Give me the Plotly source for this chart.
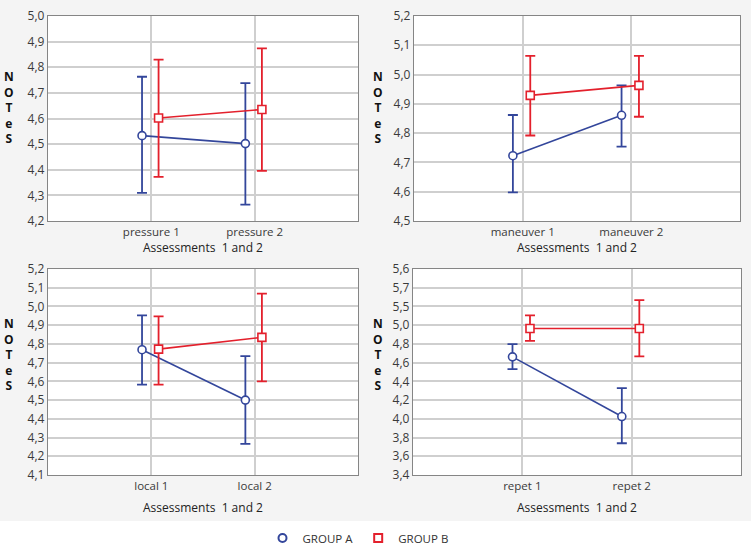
import plotly.graph_objects as go

# ---------------- data ----------------
pressure_cats = ["pressure 1", "pressure 2"]
pressure_a_mean = [4.533, 4.502]
pressure_a_hi = [4.763, 4.738]
pressure_a_lo = [4.310, 4.264]
pressure_b_mean = [4.602, 4.635]
pressure_b_hi = [4.830, 4.874]
pressure_b_lo = [4.372, 4.396]

maneuver_cats = ["maneuver 1", "maneuver 2"]
maneuver_a_mean = [4.723, 4.861]
maneuver_a_hi = [4.862, 4.963]
maneuver_a_lo = [4.598, 4.754]
maneuver_b_mean = [4.929, 4.963]
maneuver_b_hi = [5.064, 5.064]
maneuver_b_lo = [4.792, 4.856]

local_cats = ["local 1", "local 2"]
local_a_mean = [4.769, 4.500]
local_a_hi = [4.952, 4.735]
local_a_lo = [4.583, 4.266]
local_b_mean = [4.772, 4.835]
local_b_hi = [4.947, 5.068]
local_b_lo = [4.583, 4.600]

repet_cats = ["repet 1", "repet 2"]
repet_a_mean = [4.662, 4.024]
repet_a_hi = [4.798, 4.327]
repet_a_lo = [4.530, 3.739]
repet_b_mean = [4.965, 4.965]
repet_b_hi = [5.104, 5.268]
repet_b_lo = [4.833, 4.666]

pressure_ticks = [4.2, 4.3, 4.4, 4.5, 4.6, 4.7, 4.8, 4.9, 5.0]
pressure_labels = ["4,2", "4,3", "4,4", "4,5", "4,6", "4,7", "4,8", "4,9", "5,0"]
maneuver_ticks = [4.5, 4.6, 4.7, 4.8, 4.9, 5.0, 5.1, 5.2]
maneuver_labels = ["4,5", "4,6", "4,7", "4,8", "4,9", "5,0", "5,1", "5,2"]
local_ticks = [4.1, 4.2, 4.3, 4.4, 4.5, 4.6, 4.7, 4.8, 4.9, 5.0, 5.1, 5.2]
local_labels = ["4,1", "4,2", "4,3", "4,4", "4,5", "4,6", "4,7", "4,8", "4,9", "5,0", "5,1", "5,2"]
repet_ticks = [3.4, 3.6, 3.8, 4.0, 4.2, 4.4, 4.6, 4.8, 5.0, 5.2, 5.4, 5.6]
repet_labels = ["3,4", "3,6", "3,8", "4,0", "4,2", "4,4", "4,6", "4,8", "5,0", "5,5", "5,7", "5,6"]

group_names = ["GROUP A", "GROUP B"]

# ---------------- style ----------------
BLUE = "#33469b"
RED = "#e3202c"
GRID = "#cfcfcf"
BORDER = "#858585"
FONT = "Open Sans"
W, H = 751, 546

panels = [
    dict(cats=pressure_cats, a=(pressure_a_mean, pressure_a_hi, pressure_a_lo),
         b=(pressure_b_mean, pressure_b_hi, pressure_b_lo),
         ticks=pressure_ticks, labels=pressure_labels, px=(48, 358), py=(16, 221)),
    dict(cats=maneuver_cats, a=(maneuver_a_mean, maneuver_a_hi, maneuver_a_lo),
         b=(maneuver_b_mean, maneuver_b_hi, maneuver_b_lo),
         ticks=maneuver_ticks, labels=maneuver_labels, px=(414, 740), py=(16, 221)),
    dict(cats=local_cats, a=(local_a_mean, local_a_hi, local_a_lo),
         b=(local_b_mean, local_b_hi, local_b_lo),
         ticks=local_ticks, labels=local_labels, px=(48, 358), py=(269, 475)),
    dict(cats=repet_cats, a=(repet_a_mean, repet_a_hi, repet_a_lo),
         b=(repet_b_mean, repet_b_hi, repet_b_lo),
         ticks=repet_ticks, labels=repet_labels, px=(413, 741), py=(269, 475)),
]

fig = go.Figure()
layout = {}
annotations = []

for i, p in enumerate(panels):
    n = i + 1
    xa = "x" if n == 1 else f"x{n}"
    ya = "y" if n == 1 else f"y{n}"
    xpos = list(range(len(p["cats"])))
    for g, (key, color, symbol, off) in enumerate(
            [("a", BLUE, "circle", -0.09), ("b", RED, "square", 0.07)]):
        mean, hi, lo = p[key]
        fig.add_trace(go.Scatter(
            x=[v + off for v in xpos], y=mean, xaxis=xa, yaxis=ya,
            mode="lines+markers", showlegend=False,
            line=dict(color=color, width=1.6),
            marker=dict(symbol=symbol, size=8, color="white",
                        line=dict(color=color, width=1.6)),
            error_y=dict(type="data", symmetric=False,
                         array=[h - m for h, m in zip(hi, mean)],
                         arrayminus=[m - l for m, l in zip(mean, lo)],
                         color=color, thickness=1.8, width=5),
            cliponaxis=False,
        ))
    x0, x1 = p["px"]
    y0, y1 = p["py"]
    layout["xaxis" if n == 1 else f"xaxis{n}"] = dict(
        domain=[x0 / W, x1 / W], anchor=ya, range=[-1, 2],
        tickvals=xpos, ticktext=p["cats"], showgrid=True, gridcolor=GRID,
        gridwidth=1.5, zeroline=False, showline=True, linecolor=BORDER,
        linewidth=1.3, mirror=True, ticks="", fixedrange=True,
        tickfont=dict(family=FONT, size=11.5, color="#3a3a3a"))
    layout["yaxis" if n == 1 else f"yaxis{n}"] = dict(
        domain=[1 - y1 / H, 1 - y0 / H], anchor=xa,
        range=[p["ticks"][0], p["ticks"][-1]],
        tickvals=p["ticks"], ticktext=p["labels"], showgrid=True,
        gridcolor=GRID, gridwidth=1.5, zeroline=False, showline=True,
        linecolor=BORDER, linewidth=1.3, mirror=True, ticks="",
        tickfont=dict(family=FONT, size=12, color="#3a3a3a"))
    # x-axis title
    ty = y1 + (27 if n <= 2 else 32)
    annotations.append(dict(
        text="Assessments  1 and 2", xref="paper", yref="paper",
        x=((x0 + x1) / 2 + 0) / W, y=1 - ty / H, showarrow=False,
        xanchor="center", yanchor="middle",
        font=dict(family=FONT, size=12, color="#222222")))
    # stacked y-axis title
    lx = 9 if n in (1, 3) else 378
    ly = 108 if n <= 2 else 354
    annotations.append(dict(
        text="<b>N<br>O<br>T<br>e<br>S</b>", xref="paper", yref="paper",
        x=lx / W, y=1 - ly / H, showarrow=False, xanchor="center",
        yanchor="middle", align="center",
        font=dict(family=FONT, size=12, color="#111111")))

# legend entries
for name, color, symbol in [(group_names[0], BLUE, "circle"), (group_names[1], RED, "square")]:
    fig.add_trace(go.Scatter(
        x=[None], y=[None], mode="markers", name=name,
        marker=dict(symbol=symbol, size=8, color="white",
                    line=dict(color=color, width=2))))

fig.update_layout(
    width=W, height=H, margin=dict(l=0, r=0, t=0, b=0, autoexpand=False),
    paper_bgcolor="#f4f4f4", plot_bgcolor="white",
    font=dict(family=FONT, size=11, color="#333"),
    showlegend=True,
    legend=dict(orientation="h", x=358 / W, xanchor="center",
                y=1 - 538 / H, yanchor="middle", bgcolor="rgba(0,0,0,0)",
                font=dict(family=FONT, size=11.5, color="#333"),
                itemwidth=30, tracegroupgap=0),
    annotations=annotations,
    shapes=[dict(type="rect", xref="paper", yref="paper", x0=0, x1=1,
                 y0=-0.05, y1=1 - 521 / H, fillcolor="white",
                 line=dict(width=0), layer="below")],
    **layout,
)

fig.write_html("out.html")
